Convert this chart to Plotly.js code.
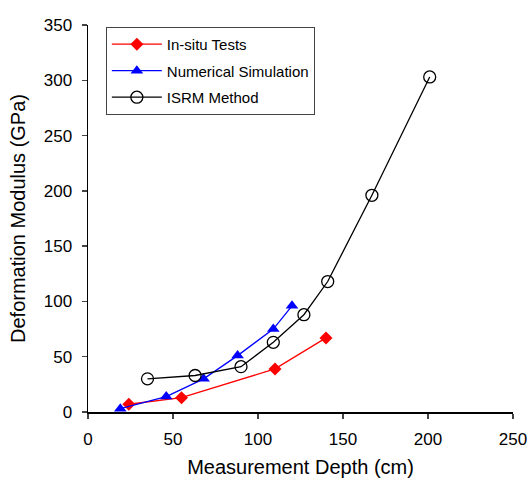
<!DOCTYPE html>
<html>
<head>
<meta charset="utf-8">
<script src="https://cdn.plot.ly/plotly-3.0.1.min.js"></script>
<style>html,body{margin:0;padding:0;background:#fff;}#chart{width:530px;height:485px;}</style>
</head>
<body>
<div id="chart"></div>
<script>
const insituDepth = [24, 55, 110, 140];
const insituModulus = [7, 13, 39, 67];
const simDepth = [19, 46, 68, 88, 109, 120];
const simModulus = [3, 14, 30, 51, 75, 96];
const isrmDepth = [35, 63, 90, 109, 127, 141, 167, 201];
const isrmModulus = [30, 33, 41, 63, 88, 118, 196, 303];
const xTicks = [0, 50, 100, 150, 200, 250];
const yTicks = [0, 50, 100, 150, 200, 250, 300, 350];

const font = 'Arial, "Liberation Sans", sans-serif';
const traces = [
  {x: insituDepth, y: insituModulus, name: 'In-situ Tests', mode: 'lines+markers', legendgroup: 'a',
   line: {color: '#ff0000', width: 1.3}, marker: {symbol: 'diamond', size: 10, color: '#ff0000'}},
  {x: simDepth, y: simModulus, name: 'Numerical Simulation', mode: 'lines+markers', legendgroup: 'b',
   line: {color: '#0000ff', width: 1.3}, marker: {symbol: 'triangle-up', size: 11, color: '#0000ff'}},
  {x: isrmDepth, y: isrmModulus, name: 'ISRM Method', mode: 'lines+markers', legendgroup: 'c',
   line: {color: '#000000', width: 1.3}, marker: {symbol: 'circle-open', size: 12, color: '#000000', line: {width: 1.3}}}
];
const layout = {
  width: 530, height: 485,
  margin: {l: 88, r: 17, t: 25, b: 73},
  paper_bgcolor: '#fff', plot_bgcolor: '#fff',
  font: {family: font, color: '#000'},
  showlegend: true,
  legend: {x: 0.042, y: 0.995, xanchor: 'left', yanchor: 'top', bgcolor: '#fff',
    bordercolor: '#444', borderwidth: 1, font: {size: 15, family: font},
    traceorder: 'grouped', tracegroupgap: 4, itemwidth: 50},
  xaxis: {range: [0, 250], tickvals: xTicks, ticks: 'outside', ticklen: 5, tickwidth: 1.5,
    showline: true, linecolor: '#000', linewidth: 1.5, showgrid: false, zeroline: false,
    ticklabelstandoff: 6,
    tickfont: {size: 17}, title: {text: 'Measurement Depth (cm)', font: {size: 20}, standoff: 12}},
  yaxis: {range: [0, 350], tickvals: yTicks, ticks: 'outside', ticklen: 5, tickwidth: 1.5,
    showline: true, linecolor: '#000', linewidth: 1.5, showgrid: false, zeroline: false,
    ticklabelstandoff: 6,
    tickfont: {size: 17}, title: {text: 'Deformation Modulus (GPa)', font: {size: 20}, standoff: 12}}
};
Plotly.newPlot('chart', traces, layout, {displayModeBar: false, staticPlot: true});
</script>
</body>
</html>
